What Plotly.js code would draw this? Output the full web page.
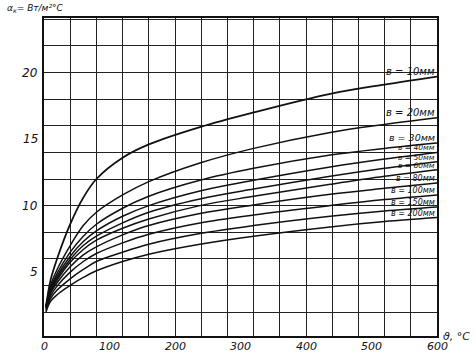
<!DOCTYPE html>
<html>
<head>
<meta charset="utf-8">
<script src="https://cdn.plot.ly/plotly-3.0.1.min.js"></script>
<style>html,body{margin:0;padding:0;background:#fff;}</style>
</head>
<body>
<div id="chart" style="width:476px;height:357px;"></div>
<script>
// Temperature difference ϑ, °C
const theta = [3, 10, 20, 40, 60, 80, 120, 160, 238, 320, 437, 520, 600];
// Curve labels (width b, mm)
const curveLabels = ["в = 10мм", "в = 20мм", "в = 30мм", "в = 40мм", "в = 50мм", "в = 60мм", "в = 80мм", "в = 100мм", "в = 150мм", "в = 200мм"];
// α_к values, Вт/(м²·°C)
const b10  = [2.4, 4.4, 6.0, 8.6, 10.6, 12.0, 13.6, 14.6, 15.9, 17.0, 18.4, 19.1, 19.7];
const b20  = [2.4, 4.0, 5.2, 7.0, 8.5, 9.5, 10.8, 11.8, 13.2, 14.3, 15.5, 16.1, 16.6];
const b30  = [2.4, 3.8, 4.9, 6.5, 7.7, 8.6, 9.8, 10.7, 11.9, 12.8, 13.8, 14.3, 14.7];
const b40  = [2.4, 3.7, 4.7, 6.2, 7.3, 8.1, 9.2, 10.0, 11.1, 11.9, 12.9, 13.5, 14.0];
const b50  = [2.4, 3.6, 4.55, 5.95, 7.0, 7.7, 8.7, 9.5, 10.5, 11.25, 12.2, 12.8, 13.3];
const b60  = [2.3, 3.5, 4.4, 5.75, 6.7, 7.4, 8.3, 9.0, 10.0, 10.7, 11.6, 12.2, 12.7];
const b80  = [2.3, 3.4, 4.2, 5.4, 6.3, 6.9, 7.8, 8.5, 9.4, 10.05, 10.85, 11.3, 11.7];
const b100 = [2.2, 3.2, 3.95, 5.0, 5.8, 6.4, 7.2, 7.85, 8.7, 9.3, 10.0, 10.45, 10.8];
const b150 = [2.1, 3.0, 3.65, 4.5, 5.2, 5.8, 6.5, 7.1, 7.9, 8.5, 9.2, 9.6, 9.9];
const b200 = [2.0, 2.8, 3.3, 4.0, 4.6, 5.1, 5.8, 6.35, 7.1, 7.7, 8.4, 8.8, 9.1];
const series = [b10, b20, b30, b40, b50, b60, b80, b100, b150, b200];
// Axis tick labels
const xTickVals = [0, 100, 200, 300, 400, 500, 600];
const xTickText = ["0", "100", "200", "300", "400", "500", "600"];
const yTickVals = [5, 10, 15, 20];
const yTickText = ["5", "10", "15", "20"];

const traces = series.map((ys, i) => ({
  x: theta, y: ys, type: 'scatter', mode: 'lines',
  line: {color: '#111', width: i === 0 ? 1.8 : 1.5, shape: 'spline', smoothing: 1.0},
  hoverinfo: 'skip', showlegend: false
}));

const font = {family: 'DejaVu Sans, sans-serif', color: '#111'};
const labelSizes = [10, 10, 9.5, 7.5, 7.5, 7.5, 8, 8, 8, 8];
const annotations = curveLabels.map((t, i) => ({
  x: 600, y: series[i][series[i].length - 1], xref: 'x', yref: 'y',
  text: '<i>' + t + '</i>', showarrow: false, xanchor: 'right', yanchor: 'bottom',
  yshift: -2, font: Object.assign({}, font, {size: labelSizes[i]})
}));
annotations.push({
  xref: 'paper', yref: 'paper', x: -0.1, y: 1.055, xanchor: 'left', yanchor: 'top',
  text: '<i>α<sub>к</sub>= Вт/м²°C</i>', showarrow: false, font: Object.assign({}, font, {size: 9})
});
annotations.push({
  xref: 'paper', yref: 'paper', x: 1.01, y: 0.0, xanchor: 'left', yanchor: 'middle',
  text: '<i>ϑ, °C</i>', showarrow: false, font: Object.assign({}, font, {size: 11})
});
xTickVals.forEach((v, i) => annotations.push({
  x: v, y: 0, xref: 'x', yref: 'paper', text: '<i>' + xTickText[i] + '</i>', showarrow: false,
  xanchor: 'center', yanchor: 'top', yshift: -2, font: Object.assign({}, font, {size: 11})
}));
yTickVals.forEach((v, i) => annotations.push({
  x: 0, y: v, xref: 'x', yref: 'y', text: '<i>' + yTickText[i] + '</i>', showarrow: false,
  xanchor: 'right', xshift: -4, font: Object.assign({}, font, {size: 12})
}));

const layout = {
  width: 476, height: 357,
  margin: {l: 44, r: 39, t: 18, b: 21, pad: 0},
  paper_bgcolor: '#fff', plot_bgcolor: '#fff',
  showlegend: false,
  xaxis: {
    range: [0, 600], dtick: 40, tick0: 0, showgrid: true, gridcolor: '#222', gridwidth: 1,
    showticklabels: false, ticks: '', zeroline: false,
    showline: true, linecolor: '#111', linewidth: 2, mirror: true
  },
  yaxis: {
    range: [0.2, 24.1], dtick: 2, tick0: 0, showgrid: true, gridcolor: '#222', gridwidth: 1,
    showticklabels: false, ticks: '', zeroline: false,
    showline: true, linecolor: '#111', linewidth: 2, mirror: true
  },
  annotations: annotations
};

Plotly.newPlot('chart', traces, layout, {staticPlot: true, displayModeBar: false});
</script>
</body>
</html>
